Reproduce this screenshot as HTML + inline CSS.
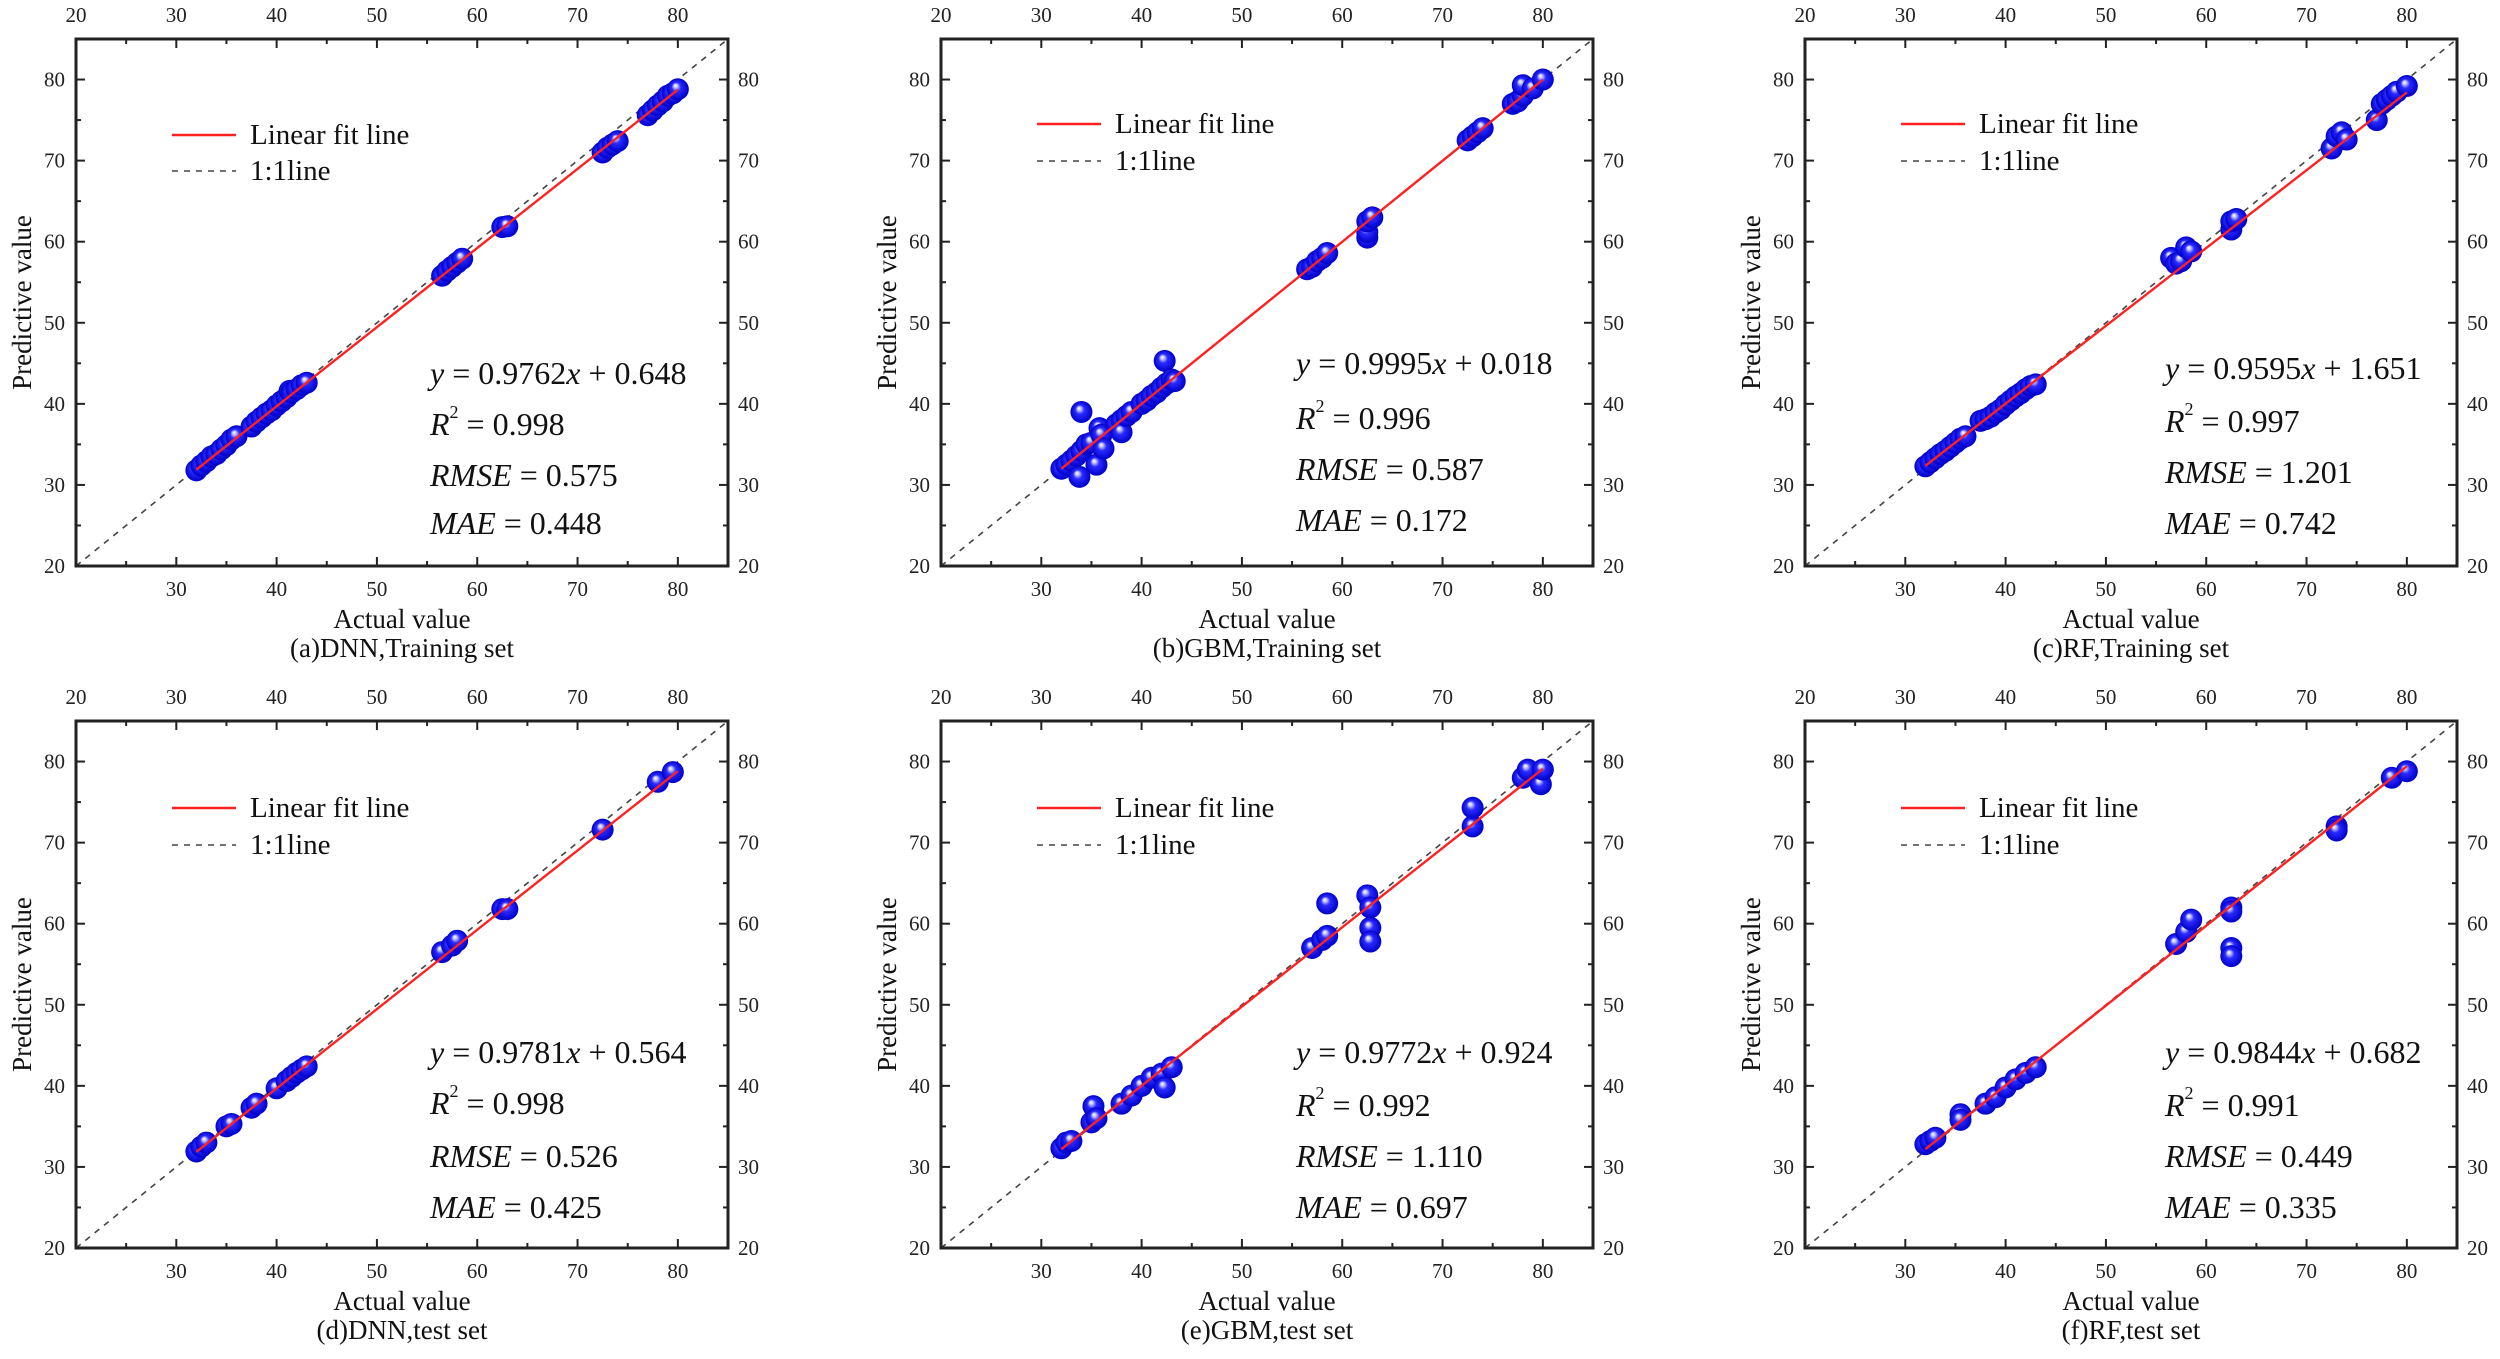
<!DOCTYPE html>
<html><head><meta charset="utf-8"><style>
html,body{margin:0;padding:0;background:#fff;}
svg{display:block;font-family:"Liberation Serif",serif;}
</style></head><body>
<svg id="fig" width="2500" height="1359" viewBox="0 0 2500 1359" xmlns="http://www.w3.org/2000/svg">
<defs>
<radialGradient id="ball" cx="0.5" cy="0.5" r="0.5" fx="0.38" fy="0.32">
<stop offset="0" stop-color="#ffffff"/>
<stop offset="0.16" stop-color="#c8c8ff"/>
<stop offset="0.42" stop-color="#2a2aff"/>
<stop offset="1" stop-color="#0000c8"/>
</radialGradient>
</defs>
</svg>
<script>
const xTicks = [20,30,40,50,60,70,80];
const yTicks = [20,30,40,50,60,70,80];
const panelNames = ['dnn-train','gbm-train','rf-train','dnn-test','gbm-test','rf-test'];
const captions = ['(a)DNN,Training set','(b)GBM,Training set','(c)RF,Training set','(d)DNN,test set','(e)GBM,test set','(f)RF,test set'];
const slopes = [0.9762,0.9995,0.9595,0.9781,0.9772,0.9844];
const intercepts = [0.648,0.018,1.651,0.564,0.924,0.682];
const eqText = ['0.9762','0.9995','0.9595','0.9781','0.9772','0.9844'];
const icText = ['0.648','0.018','1.651','0.564','0.924','0.682'];
const r2Text = ['0.998','0.996','0.997','0.998','0.992','0.991'];
const rmseText = ['0.575','0.587','1.201','0.526','1.110','0.449'];
const maeText = ['0.448','0.172','0.742','0.425','0.697','0.335'];

const actA = [32,32.5,33,33.5,34,34.5,35,35.5,36,37.5,38,38.5,39,39.5,40,40.5,41,41.3,41.5,42,42.5,43,56.5,57,57.5,58,58.5,62.5,63,72.5,73,73.5,74,77,77.5,78,78.5,79,79.5,80];
const preA = [31.8,32.4,32.9,33.5,33.8,34.4,34.9,35.6,36,37.2,37.8,38.3,38.8,39.2,39.8,40.3,40.8,41.6,41.4,41.8,42.3,42.6,55.8,56.4,56.9,57.4,57.9,61.8,61.9,71,71.6,72,72.4,75.6,76.2,76.8,77.3,78,78.3,78.8];
const actB = [32,32.5,33,33.5,34,34,33.8,34.5,35,35.5,35.8,36,36.2,37.5,38,38,38.5,39,40,40.5,41,41.5,42,42.3,42.5,43,43.3,56.5,57,57.5,58,58.5,62.5,62.5,62.5,63,72.5,73,73.5,74,77,77.5,78,78,79,80];
const preB = [32,32.5,33,33.6,34.2,39,31,35,35.2,32.5,37,36.2,34.5,37.5,38,36.5,38.5,39,40,40.4,41,41.4,42,45.3,42.5,43,42.8,56.6,56.9,57.6,58,58.6,60.5,61.2,62.5,63,72.5,73,73.5,74,77,77.3,78,79.3,78.9,80];
const actC = [32,32.5,33,33.5,34,34.5,35,35.5,36,37.5,38,38.5,39,39.5,40,40.5,41,41.5,42,42.5,43,56.5,57,57.5,58,58.5,62.5,62.5,63,72.5,73,73.5,74,77,77.5,78,78.5,79,80];
const preC = [32.3,32.8,33.3,33.8,34.2,34.7,35.2,35.7,36,37.9,38.1,38.4,38.9,39.3,39.9,40.4,40.9,41.3,41.8,42.2,42.4,58,57.3,57.6,59.3,58.8,61.5,62.5,62.8,71.5,73,73.5,72.6,75,77,77.5,78,78.5,79.2];
const actD = [32,32.5,33,35,35.5,37.5,38,40,41,41.5,42,42.5,43,56.5,57.5,58,62.5,63,72.5,78,79.5];
const preD = [31.9,32.5,33,35,35.3,37.3,37.8,39.7,40.6,41.1,41.6,42,42.4,56.5,57.3,57.9,61.8,61.8,71.6,77.5,78.7];
const actE = [32,32.5,33,35,35.2,35.5,38,39,40,41,42,42.3,43,57,58,58.5,58.5,62.5,62.8,62.8,62.8,73,73,78,78.5,79.8,80];
const preE = [32.3,33,33.2,35.5,37.5,36,37.8,38.8,40,41,41.5,39.8,42.3,57,58,62.5,58.5,63.5,62,59.5,57.8,72,74.3,78,79,77.2,79];
const actF = [32,32.5,33,35.5,35.5,38,39,40,41,42,43,57,58,58.5,62.5,62.5,62.5,62.5,73,73,78.5,80];
const preF = [32.8,33.2,33.6,36.5,35.8,37.8,38.6,39.8,40.8,41.6,42.3,57.5,59,60.5,62,61.5,57,56,72,71.5,78,78.8];
const actuals = [actA,actB,actC,actD,actE,actF];
const preds = [preA,preB,preC,preD,preE,preF];

const NS='http://www.w3.org/2000/svg';
const svg=document.getElementById('fig');
const lefts=[76,941,1805];
const tops=[39,721];
const W=652, H=527;
const legY=[[96,132],[85,122],[85,122],[87,124],[87,124],[87,124]];
const statY=[[334,385,436,484],[324,379,430,481],[329,382,433,484],[331,382,435,486],[331,384,435,486],[331,384,435,486]];
const statX=[354,355,360,354,355,360];
function mk(tag,attrs,parent){const e=document.createElementNS(NS,tag);for(const k in attrs)e.setAttribute(k,attrs[k]);(parent||svg).appendChild(e);return e;}
function txt(s,attrs,parent){const e=mk('text',attrs,parent);e.textContent=s;return e;}

for(let p=0;p<6;p++){
  const L=lefts[p%3], T=tops[Math.floor(p/3)], R=L+W, B=T+H;
  const sx=v=>L+(v-20)/65*W;
  const sy=v=>B-(v-20)/65*H;
  const g=mk('g',{});
  
  
  const one=mk('line',{x1:sx(20),y1:sy(20),x2:sx(85),y2:sy(85),stroke:'#444','stroke-width':1.6,'stroke-dasharray':'6,6'},g);
  
  
  const pts=mk('g',{},g);
  
  
  actuals[p].forEach((a,i)=>{
    const c=mk('circle',{cx:sx(a),cy:sy(preds[p][i]),r:11,fill:'url(#ball)'},pts);
    
    
  });
  const fit=mk('line',{x1:sx(32),y1:sy(slopes[p]*32+intercepts[p]),x2:sx(80),y2:sy(slopes[p]*80+intercepts[p]),stroke:'#ff2020','stroke-width':2.4},g);
  
  
  const fr=mk('rect',{x:L,y:T,width:W,height:H,fill:'none',stroke:'#222','stroke-width':3},g);
  
  
  for(let v=25;v<=80;v+=5){
    const maj=v%10===0, len=maj?9:5, x=sx(v);
    mk('line',{x1:x,y1:B,x2:x,y2:B-len,stroke:'#222','stroke-width':2},g);
    mk('line',{x1:x,y1:T,x2:x,y2:T+len,stroke:'#222','stroke-width':2},g);
    const y=sy(v);
    mk('line',{x1:L,y1:y,x2:L+len,y2:y,stroke:'#222','stroke-width':2},g);
    mk('line',{x1:R,y1:y,x2:R-len,y2:y,stroke:'#222','stroke-width':2},g);
  }
  xTicks.forEach(v=>{
    if(v>20){const t=txt(String(v),{x:sx(v),y:B+23,'font-size':21,'text-anchor':'middle','dominant-baseline':'central',fill:'#222'},g);
    
    }
    const t2=txt(String(v),{x:sx(v),y:T-24,'font-size':21,'text-anchor':'middle','dominant-baseline':'central',fill:'#222'},g);
    
    
  });
  yTicks.forEach(v=>{
    const t=txt(String(v),{x:L-11,y:sy(v),'font-size':21,'text-anchor':'end','dominant-baseline':'central',fill:'#222'},g);
    
    
    const t2=txt(String(v),{x:R+10,y:sy(v),'font-size':21,'text-anchor':'start','dominant-baseline':'central',fill:'#222'},g);
    
    
  });
  const xl=txt('Actual value',{x:L+W/2,y:B+53,'font-size':27,'text-anchor':'middle','dominant-baseline':'central',fill:'#111'},g);
  
  
  const cap=txt(captions[p],{x:L+W/2,y:B+82,'font-size':27,'text-anchor':'middle','dominant-baseline':'central',fill:'#111'},g);
  
  
  const yl=txt('Predictive value',{x:0,y:0,'font-size':27,'text-anchor':'middle','dominant-baseline':'central',fill:'#111',transform:`translate(${L-54},${T+H/2}) rotate(-90)`},g);
  
  
  const lg=mk('g',{},g);
  
  
  const ly=legY[p];
  mk('line',{x1:L+96,y1:T+ly[0],x2:L+160,y2:T+ly[0],stroke:'#ff2020','stroke-width':2.4},lg);
  const l1=txt('Linear fit line',{x:L+174,y:T+ly[0],'font-size':29,'dominant-baseline':'central',fill:'#111'},lg);
  
  
  mk('line',{x1:L+96,y1:T+ly[1],x2:L+160,y2:T+ly[1],stroke:'#444','stroke-width':1.6,'stroke-dasharray':'6,6'},lg);
  const l2=txt('1:1line',{x:L+174,y:T+ly[1],'font-size':29,'dominant-baseline':'central',fill:'#111'},lg);
  
  
  const st=mk('g',{'font-size':32,fill:'#111'},g);
  
  
  const sX=L+statX[p], sYs=statY[p];
  const t1=mk('text',{x:sX,y:T+sYs[0],'dominant-baseline':'central'},st);
  t1.innerHTML=`<tspan font-style="italic">y</tspan> = ${eqText[p]}<tspan font-style="italic">x</tspan> + ${icText[p]}`;
  const t2=mk('text',{x:sX,y:T+sYs[1],'dominant-baseline':'central'},st);
  t2.innerHTML=`<tspan font-style="italic">R</tspan><tspan font-size="18" dy="-12">2</tspan><tspan dy="12"> = ${r2Text[p]}</tspan>`;
  const t3=mk('text',{x:sX,y:T+sYs[2],'dominant-baseline':'central'},st);
  t3.innerHTML=`<tspan font-style="italic">RMSE</tspan> = ${rmseText[p]}`;
  const t4=mk('text',{x:sX,y:T+sYs[3],'dominant-baseline':'central'},st);
  t4.innerHTML=`<tspan font-style="italic">MAE</tspan> = ${maeText[p]}`;
}
</script>
</body></html>
